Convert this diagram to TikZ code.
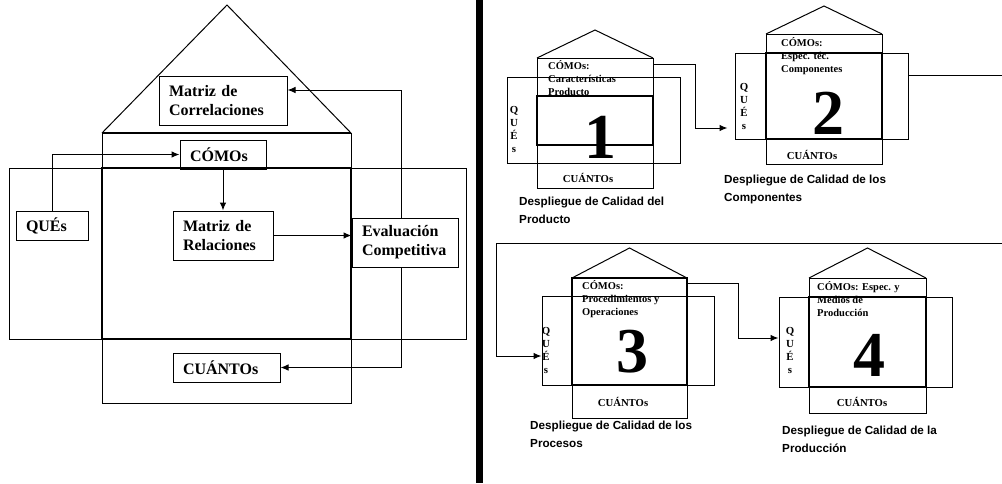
\documentclass[tikz,border=0pt]{standalone}
\usepackage{fontspec}
\setmainfont{Liberation Serif}
\newfontfamily\capfont{Liberation Sans}
\usetikzlibrary{arrows.meta}
\begin{document}
\begin{tikzpicture}[x=1pt,y=-1pt,
  frame/.style={draw, line width=1pt},
  heavy/.style={draw, line width=2pt},
  midline/.style={draw, line width=1.8pt},
  box/.style={draw, line width=1pt, inner sep=0pt},
  lbl/.style={draw, line width=1pt, inner xsep=10pt, inner ysep=0pt, align=left,
    font=\fontsize{16}{19}\selectfont\bfseries},
  arr/.style={-{Latex[length=8pt,width=6.5pt]}, line width=1pt},
  htext/.style={inner sep=0pt, align=left, anchor=north west,
    font=\fontsize{10.5}{13}\selectfont\bfseries},
  qtext/.style={inner sep=0pt, align=center,
    font=\fontsize{10.8}{13}\selectfont\bfseries},
  qty/.style={inner sep=0pt, font=\fontsize{10.7}{12}\selectfont\bfseries},
  digit/.style={inner sep=0pt, font=\fontsize{64}{64}\selectfont\bfseries},
  caption/.style={inner sep=0pt, align=left, anchor=north west,
    font=\capfont\fontsize{11.7}{18}\selectfont\bfseries}]

\useasboundingbox (0,0) rectangle (1002,483);
\fill[white] (0,0) rectangle (1002,483);

% ---------- general house of quality ----------
\draw[frame] (102,133) -- (227,5) -- (351,133);
\draw[frame] (102,133) rectangle (351,403);
\draw[frame] (9,168) rectangle (466,339);
\draw[heavy] (102,168) rectangle (351,339);
\draw[line width=1.6pt] (102,133) -- (351,133);

\node[lbl, text width=108pt, minimum height=49pt] (corr) at (223,100.5) {Matriz de\\Correlaciones};
\node[lbl, text width=66pt, minimum height=29pt] (como) at (223,154.5) {CÓMOs};
\node[lbl, text width=52pt, minimum height=29pt] (ques) at (52,225.5) {QUÉs};
\node[lbl, text width=80pt, minimum height=49pt] (rel) at (223,235.5) {Matriz de\\Relaciones};
\node[lbl, text width=86pt, minimum height=49pt] (eval) at (405,242.5) {Evaluación\\Competitiva};
\node[lbl, text width=87pt, minimum height=29pt] (cuan) at (226.5,367.5) {CUÁNTOs};

\draw[arr] (ques.north) |- (como.west);
\draw[arr] (como.south) -- (rel.north);
\draw[arr] (rel.east) -- (rel.east -| eval.west);
\draw[arr] ([xshift=-4pt]eval.north) |- ([yshift=10.5pt]corr.east);
\draw[arr] ([xshift=-4pt]eval.south) |- (cuan.east);

% ---------- divider ----------
\fill[black] (476,0) rectangle (483,483);

% ---------- house 1 ----------
\draw[frame] (537,58) -- (595,30) -- (653,58);
\node[box, minimum width=116pt, minimum height=130pt] (v1) at (595,123) {};
\node[box, minimum width=173pt, minimum height=86pt] (h1) at (593.5,120) {};
\draw[midline] (537,96) rectangle (653,145);
\node[htext] (c1) at (548,60.5) {CÓMOs:\\Características\\Producto};
\node[qtext] (q1) at (514,129) {Q\\U\\É\\s};
\node[digit] (n1) at (600,137) {1};
\node[qty] (u1) at (588,177.5) {CUÁNTOs};
\node[caption] (d1) at (519,197) {Despliegue de Calidad del\\Producto};

% ---------- house 2 ----------
\draw[frame] (766,34) -- (824,6) -- (882,34);
\node[box, minimum width=116pt, minimum height=130pt] (v2) at (824,99) {};
\node[box, minimum width=173pt, minimum height=86pt] (h2) at (821.5,96) {};
\draw[midline] (766,53) rectangle (882,139);
\node[htext] (c2) at (781,37.5) {CÓMOs:\\Espec. téc.\\Componentes};
\node[qtext] (q2) at (744,106) {Q\\U\\É\\s};
\node[digit] (n2) at (828,113.5) {2};
\node[qty] (u2) at (812,154.5) {CUÁNTOs};
\node[caption] (d2) at (724,175) {Despliegue de Calidad de los\\Componentes};

% ---------- house 3 ----------
\draw[frame] (572,278) -- (629.5,248) -- (687,278);
\node[box, minimum width=115pt, minimum height=140pt] (v3) at (629.5,348) {};
\node[box, minimum width=172pt, minimum height=89pt] (h3) at (628,340.5) {};
\draw[midline] (572,278) rectangle (687,385);
\node[htext] (c3) at (582,280.5) {CÓMOs:\\Procedimientos y\\Operaciones};
\node[qtext] (q3) at (546,350) {Q\\U\\É\\s};
\node[digit] (n3) at (632,352) {3};
\node[qty] (u3) at (623,401.5) {CUÁNTOs};
\node[caption] (d3) at (530,420.5) {Despliegue de Calidad de los\\Procesos};

% ---------- house 4 ----------
\draw[frame] (809,278) -- (867.5,248) -- (926,278);
\node[box, minimum width=117pt, minimum height=135pt] (v4) at (867.5,345.5) {};
\node[box, minimum width=173pt, minimum height=90pt] (h4) at (865.5,342) {};
\draw[midline] (809,297) rectangle (926,387);
\node[htext] (c4) at (817,281.5) {CÓMOs: Espec. y\\Medios de\\Producción};
\node[qtext] (q4) at (790,350) {Q\\U\\É\\s};
\node[digit] (n4) at (869,355) {4};
\node[qty] (u4) at (862,401.5) {CUÁNTOs};
\node[caption] (d4) at (782,426) {Despliegue de Calidad de la\\Producción};

% ---------- flow between the houses ----------
\draw[arr, shorten >=7pt] ([yshift=-7pt]v1.north east) -- ++(42,0) |- ([yshift=-32pt]h2.west);
\coordinate (e2) at (1002,75);
\coordinate (e3) at (1002,243);
\draw[line width=1pt] ([yshift=21pt]h2.east) -- (e2);
\draw[arr] (e3) -| ([xshift=-45pt,yshift=-15.5pt]h3.west) -- ([yshift=-15.5pt]h3.west);
\draw[arr] ([yshift=-6pt]v3.north east) -- ++(51,0) |- ([yshift=4pt]h4.west);

\end{tikzpicture}
\end{document}
